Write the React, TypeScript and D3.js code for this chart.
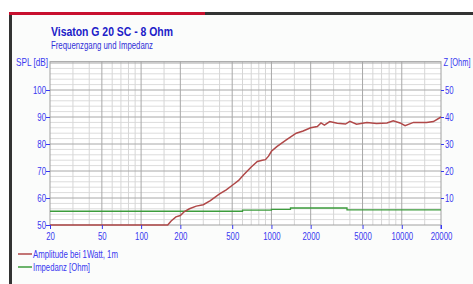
import React, { useEffect, useRef } from 'react';
import * as d3 from 'd3';

const W = 473;
const H = 284;

// SPL curve, frequency [Hz] / level [dB]
const splFreq = [20, 100, 160, 170, 185, 200, 215, 235, 265, 300, 340, 400, 450, 510, 560, 610, 700, 780, 850, 900, 950, 1000, 1100, 1300, 1550, 1750, 2000, 2250, 2400, 2550, 2800, 3200, 3700, 4000, 4500, 5400, 6400, 7700, 8600, 9700, 10600, 12300, 15500, 17500, 20000];
const splDb = [50, 50, 50, 51.5, 53, 53.5, 55, 56, 57, 57.5, 59, 61.5, 63, 65, 66.5, 68.5, 71.5, 73.5, 74, 74.2, 75.5, 77.3, 79, 81.5, 84, 84.8, 86, 86.5, 87.8, 87, 88.3, 87.7, 87.4, 88.4, 87.3, 88, 87.6, 87.8, 88.6, 87.8, 86.8, 88, 88, 88.3, 90];

// impedance curve, frequency [Hz] / Z [Ohm]
const zFreq = [20, 600, 600, 1000, 1000, 1400, 1400, 3800, 3800, 20000];
const zOhm = [5.1, 5.1, 5.5, 5.5, 5.8, 5.8, 6.3, 6.3, 5.6, 5.6];

const xTicks = [20, 50, 100, 200, 500, 1000, 2000, 5000, 10000, 20000];
const splTicks = [50, 60, 70, 80, 90, 100];
const zTicks = [10, 20, 30, 40, 50];

const blue = '#3838f0';
const font = '"Liberation Sans", Arial, sans-serif';

// squeeze a text horizontally, like the condensed font of the original
const squeeze = (sel: any, k: number) => {
  sel.each(function (this: SVGTextElement) {
    const len = this.getComputedTextLength();
    this.setAttribute('textLength', String(len * k));
    this.setAttribute('lengthAdjust', 'spacingAndGlyphs');
  });
};

export default function App() {
  const ref = useRef<SVGSVGElement>(null);

  useEffect(() => {
    const svg = d3.select(ref.current);
    svg.selectAll('*').remove();

    const x = d3.scaleLog().domain([20, 20000]).range([50, 441]);
    const y = d3.scaleLinear().domain([50, 100]).range([225, 90]);
    const yz = d3.scaleLinear().domain([0, 50]).range([225, 90]);
    const top = y(110.5);

    // panel
    svg.append('rect').attr('x', 11).attr('y', 13).attr('width', W - 11).attr('height', H - 13).attr('fill', '#fbfcfb');
    svg.append('rect').attr('x', 9).attr('y', 12).attr('width', 3).attr('height', H - 12).attr('fill', '#333');
    svg.append('rect').attr('x', 9).attr('y', 12).attr('width', 196).attr('height', 3).attr('fill', '#c8102e');
    svg.append('rect').attr('x', 205).attr('y', 12).attr('width', W - 205).attr('height', 3).attr('fill', '#333');

    svg.append('text').attr('x', 51).attr('y', 36).attr('font-family', font).attr('font-weight', 'bold')
      .attr('font-size', 13).attr('fill', '#2020c8').attr('textLength', 122).attr('lengthAdjust', 'spacingAndGlyphs')
      .text('Visaton G 20 SC - 8 Ohm');
    svg.append('text').attr('x', 51).attr('y', 49).attr('font-family', font)
      .attr('font-size', 10).attr('fill', '#3030d8').attr('textLength', 102).attr('lengthAdjust', 'spacingAndGlyphs')
      .text('Frequenzgang und Impedanz');

    const g = svg.append('g');
    g.append('rect').attr('x', 50).attr('y', top).attr('width', 391).attr('height', 225 - top).attr('fill', '#fff');

    // minor grid
    const minorY = d3.range(52, 111, 2).filter((v) => v % 10 !== 0);
    g.selectAll('.hmin').data(minorY).enter().append('line')
      .attr('x1', 50).attr('x2', 441).attr('y1', (d) => y(d)).attr('y2', (d) => y(d))
      .attr('stroke', '#dcdcdc').attr('stroke-width', 1);
    const minorX: number[] = [];
    [10, 100, 1000, 10000].forEach((dec) => {
      [1, 1.5, 2, 3, 4, 5, 6, 7, 8, 9].forEach((m) => {
        const f = dec * m;
        if (f > 20 && f < 20000 && !xTicks.includes(f)) minorX.push(f);
      });
    });
    g.selectAll('.vmin').data(minorX).enter().append('line')
      .attr('y1', top).attr('y2', 225).attr('x1', (d) => x(d)).attr('x2', (d) => x(d))
      .attr('stroke', '#d6d6d6').attr('stroke-width', 1);

    // major grid
    g.selectAll('.hmaj').data([60, 70, 80, 90, 100, 110]).enter().append('line')
      .attr('x1', 50).attr('x2', 441).attr('y1', (d) => y(d)).attr('y2', (d) => y(d))
      .attr('stroke', '#a8a8a8').attr('stroke-width', 1);
    g.selectAll('.vmaj').data(xTicks.slice(1, -1)).enter().append('line')
      .attr('y1', top).attr('y2', 225).attr('x1', (d) => x(d)).attr('x2', (d) => x(d))
      .attr('stroke', '#a8a8a8').attr('stroke-width', 1);
    g.append('rect').attr('x', 50).attr('y', top).attr('width', 391).attr('height', 225 - top)
      .attr('fill', 'none').attr('stroke', '#a0a0a0');

    // axes
    const axisStyle = (sel: any) => {
      sel.select('.domain').remove();
      sel.selectAll('line').attr('stroke', blue);
      sel.selectAll('text').attr('fill', blue).attr('font-family', font).attr('font-size', 11.5).call(squeeze, 0.68);
    };
    svg.append('g').attr('transform', 'translate(0,225)')
      .call(d3.axisBottom(x).tickValues(xTicks).tickFormat((d: any) => String(d)).tickSize(4).tickPadding(3))
      .call(axisStyle);
    svg.append('g').attr('transform', 'translate(50,0)')
      .call(d3.axisLeft(y).tickValues(splTicks).tickSize(4).tickPadding(0))
      .call(axisStyle);
    svg.append('g').attr('transform', 'translate(441,0)')
      .call(d3.axisRight(yz).tickValues(zTicks).tickSize(3).tickPadding(1))
      .call(axisStyle);
    svg.append('line').attr('x1', 441).attr('x2', 441).attr('y1', 225).attr('y2', 229).attr('stroke', blue);

    svg.append('text').attr('x', 16).attr('y', 66).attr('font-family', font)
      .attr('font-size', 11).attr('fill', blue).attr('textLength', 32).attr('lengthAdjust', 'spacingAndGlyphs')
      .text('SPL [dB]');
    // condensed via transform so the label stays inside the frame
    svg.append('text').attr('transform', 'translate(443.5,66) scale(0.68,1)').attr('font-family', font)
      .attr('font-size', 11).attr('fill', blue)
      .text('Z [Ohm]');

    // curves
    const splData = splFreq.map((f, i) => [f, splDb[i]]);
    const zData = zFreq.map((f, i) => [f, zOhm[i]]);
    g.append('path').datum(zData)
      .attr('d', d3.line().x((d: any) => x(d[0])).y((d: any) => yz(d[1])) as any)
      .attr('fill', 'none').attr('stroke', '#3c9c3c').attr('stroke-width', 1.3);
    g.append('path').datum(splData)
      .attr('d', d3.line().x((d: any) => x(d[0])).y((d: any) => y(d[1])) as any)
      .attr('fill', 'none').attr('stroke', '#b04848').attr('stroke-width', 1.5);

    // legend
    const legend = [
      { label: 'Amplitude bei 1Watt, 1m', color: '#b04848', w: 85 },
      { label: 'Impedanz [Ohm]', color: '#3c9c3c', w: 57 },
    ];
    legend.forEach((l, i) => {
      const ly = 254 + i * 13;
      svg.append('line').attr('x1', 18).attr('x2', 32).attr('y1', ly).attr('y2', ly)
        .attr('stroke', l.color).attr('stroke-width', 1.5);
      svg.append('text').attr('x', 33).attr('y', ly + 3.5).attr('font-family', font)
        .attr('font-size', 10.5).attr('fill', blue).attr('textLength', l.w).attr('lengthAdjust', 'spacingAndGlyphs')
        .text(l.label);
    });
  }, []);

  return (
    <svg ref={ref} width={W} height={H} style={{ position: 'absolute', left: 0, top: 0, background: '#fff' }} />
  );
}
